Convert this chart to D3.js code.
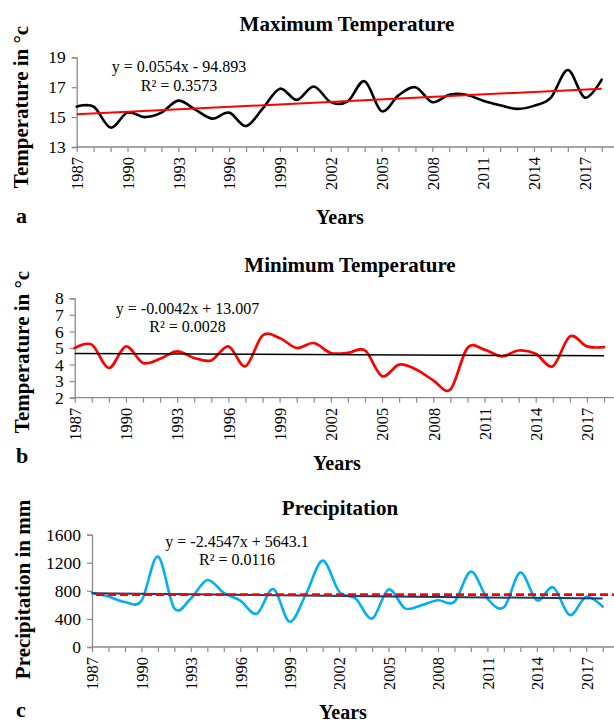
<!DOCTYPE html>
<html>
<head>
<meta charset="utf-8">
<script src="https://cdn.jsdelivr.net/npm/d3@7"></script>
<style>
  html, body { margin: 0; padding: 0; background: #fff; }
  svg { display: block; }
  text { font-family: "Liberation Serif", "Times New Roman", serif; fill: #000; }
</style>
</head>
<body>
<script>
// ---------------- DATA ----------------
const years = [1987,1988,1989,1990,1991,1992,1993,1994,1995,1996,1997,1998,1999,2000,2001,2002,
               2003,2004,2005,2006,2007,2008,2009,2010,2011,2012,2013,2014,2015,2016,2017,2018];
const yearLabels = [1987,1990,1993,1996,1999,2002,2005,2008,2011,2014,2017];

const maxTemp = [15.7,15.7,14.3,15.3,15.0,15.3,16.1,15.5,14.9,15.3,14.4,15.6,16.9,16.15,17.05,16.0,
                 16.05,17.4,15.4,16.45,17.0,16.0,16.5,16.5,16.1,15.8,15.55,15.75,16.3,18.15,16.3,17.5];
const minTemp = [5.0,5.2,3.8,5.1,4.1,4.35,4.8,4.4,4.25,5.1,3.9,5.75,5.6,5.0,5.3,4.7,
                 4.7,4.85,3.3,4.0,3.7,3.05,2.5,5.0,4.9,4.5,4.85,4.65,3.9,5.7,5.1,5.05];
const precip  = [770,720,640,660,1290,550,690,955,770,660,475,825,360,760,1230,790,
                 690,405,820,550,595,665,645,1075,690,565,1060,665,850,455,715,575];

const maxTicks = [13,15,17,19];
const minTicks = [2,3,4,5,6,7,8];
const precipTicks = [0,400,800,1200,1600];

// trend line coefficients (slope, intercept) and R²
const maxTrend = [0.0554, -94.893];
const minTrend = [-0.0042, 13.007];
const precipTrend = [-2.4547, 5643.1];
const maxEq = ["y = 0.0554x - 94.893", "R² = 0.3573"];
const minEq = ["y = -0.0042x + 13.007", "R² = 0.0028"];
const precipEq = ["y = -2.4547x + 5643.1", "R² = 0.0116"];
const precipReference = 745;   // dashed reference level

// ---------------- DRAW ----------------
const W = 614, H = 722;
const FONT = '"Liberation Serif", "Times New Roman", serif';
const svg = d3.select("body").append("svg").attr("width", W).attr("height", H)
  .attr("font-family", FONT);
const axisColor = "#8a8a8a";

function panel(o) {
  const g = svg.append("g");
  const x = d3.scaleLinear().domain([years[0], years[years.length-1]]).range([o.x0, o.x1]);
  const y = d3.scaleLinear().domain([o.ticks[0], o.ticks[o.ticks.length-1]]).range([o.yb, o.yt]);

  // x axis
  const gx = g.append("g").attr("transform", `translate(0,${o.yb})`)
    .call(d3.axisBottom(x).tickValues(years).tickSize(5)
      .tickFormat(d => yearLabels.includes(d) ? String(d) : ""));
  gx.attr("font-family", FONT).attr("font-size", 16.5);
  gx.select(".domain").remove();
  gx.append("line").attr("x1", o.x0).attr("x2", W).attr("y1", 0).attr("y2", 0)
    .attr("stroke", axisColor).attr("stroke-width", 1.3);
  gx.selectAll(".tick line").attr("stroke", axisColor).attr("stroke-width", 1.2);
  gx.selectAll(".tick text")
    .attr("transform", "rotate(-90)")
    .attr("text-anchor", "end")
    .attr("x", -10).attr("y", 0).attr("dy", "0.35em")
    .attr("fill", "#000");

  // y axis
  const gy = g.append("g").attr("transform", `translate(${o.x0},0)`)
    .call(d3.axisLeft(y).tickValues(o.ticks).tickSize(5).tickPadding(6).tickFormat(d3.format("d")));
  gy.attr("font-family", FONT).attr("font-size", 17.5);
  gy.select(".domain").attr("stroke", axisColor).attr("stroke-width", 1.3);
  gy.selectAll(".tick line").attr("stroke", axisColor).attr("stroke-width", 1.2);
  gy.selectAll(".tick text").attr("fill", "#000");

  // series
  const line = d3.line().x((d, i) => x(years[i])).y(d => y(d)).curve(d3.curveCardinal.tension(0));
  g.append("path").datum(o.values).attr("d", line)
    .attr("fill", "none").attr("stroke", o.color).attr("stroke-width", o.width)
    .attr("stroke-linejoin", "round").attr("stroke-linecap", "round");

  // trend line
  const t = o.trend;
  const x0 = years[0], x1 = years[years.length-1];
  g.append("line")
    .attr("x1", x(x0)).attr("y1", y(t[0]*x0 + t[1]))
    .attr("x2", x(x1)).attr("y2", y(t[0]*x1 + t[1]))
    .attr("stroke", o.trendColor).attr("stroke-width", o.trendWidth);

  if (o.reference !== undefined) {
    g.append("line")
      .attr("x1", x(x0) + 4).attr("x2", W)
      .attr("y1", y(o.reference)).attr("y2", y(o.reference))
      .attr("stroke", "#ff0000").attr("stroke-width", 2.8)
      .attr("stroke-dasharray", "8,4");
  }

  // equation text
  g.append("text").attr("x", o.eqX).attr("y", o.eqY1).attr("text-anchor", "middle")
    .attr("font-size", 16).text(o.eq[0]);
  g.append("text").attr("x", o.eqX).attr("y", o.eqY2).attr("text-anchor", "middle")
    .attr("font-size", 16).text(o.eq[1]);

  // title
  g.append("text").attr("x", o.titleX).attr("y", o.titleY).attr("text-anchor", "middle")
    .attr("font-size", 21).attr("font-weight", "bold").text(o.title);

  // y title
  g.append("text").attr("transform", `translate(${o.ytX},${o.ytY}) rotate(-90)`)
    .attr("text-anchor", "middle")
    .attr("font-size", 21).attr("font-weight", "bold").text(o.yTitle);

  // x title
  g.append("text").attr("x", o.xtX).attr("y", o.xtY).attr("text-anchor", "middle")
    .attr("font-size", 20).attr("font-weight", "bold").text("Years");

  // panel letter
  g.append("text").attr("x", 16).attr("y", o.letterY)
    .attr("font-size", 22).attr("font-weight", "bold").text(o.letter);
}

panel({
  values: maxTemp, ticks: maxTicks, x0: 76.7, x1: 601.7, yb: 147, yt: 57.3,
  color: "#000000", width: 2.6, trend: maxTrend, trendColor: "#ff0000", trendWidth: 2,
  eq: maxEq, eqX: 179, eqY1: 72, eqY2: 91,
  title: "Maximum Temperature", titleX: 347, titleY: 30.5,
  yTitle: "Temperature in °c", ytX: 28, ytY: 107,
  xtX: 340, xtY: 224, letter: "a", letterY: 223
});

panel({
  values: minTemp, ticks: minTicks, x0: 74.7, x1: 604, yb: 397.7, yt: 298.3,
  color: "#ff0000", width: 2.7, trend: minTrend, trendColor: "#000000", trendWidth: 1.5,
  eq: minEq, eqX: 187.5, eqY1: 314, eqY2: 331.5,
  title: "Minimum Temperature", titleX: 350, titleY: 271.5,
  yTitle: "Temperature in °c", ytX: 29, ytY: 352,
  xtX: 337, xtY: 470, letter: "b", letterY: 463
});

panel({
  values: precip, ticks: precipTicks, x0: 92, x1: 602.7, yb: 647, yt: 534.7,
  color: "#00b0f0", width: 2.6, trend: precipTrend, trendColor: "#1f3864", trendWidth: 2,
  reference: precipReference,
  eq: precipEq, eqX: 237, eqY1: 547, eqY2: 565.3,
  title: "Precipitation", titleX: 340, titleY: 515,
  yTitle: "Precipitation in mm", ytX: 30, ytY: 589.5,
  xtX: 343, xtY: 719, letter: "c", letterY: 717
});
</script>
</body>
</html>
